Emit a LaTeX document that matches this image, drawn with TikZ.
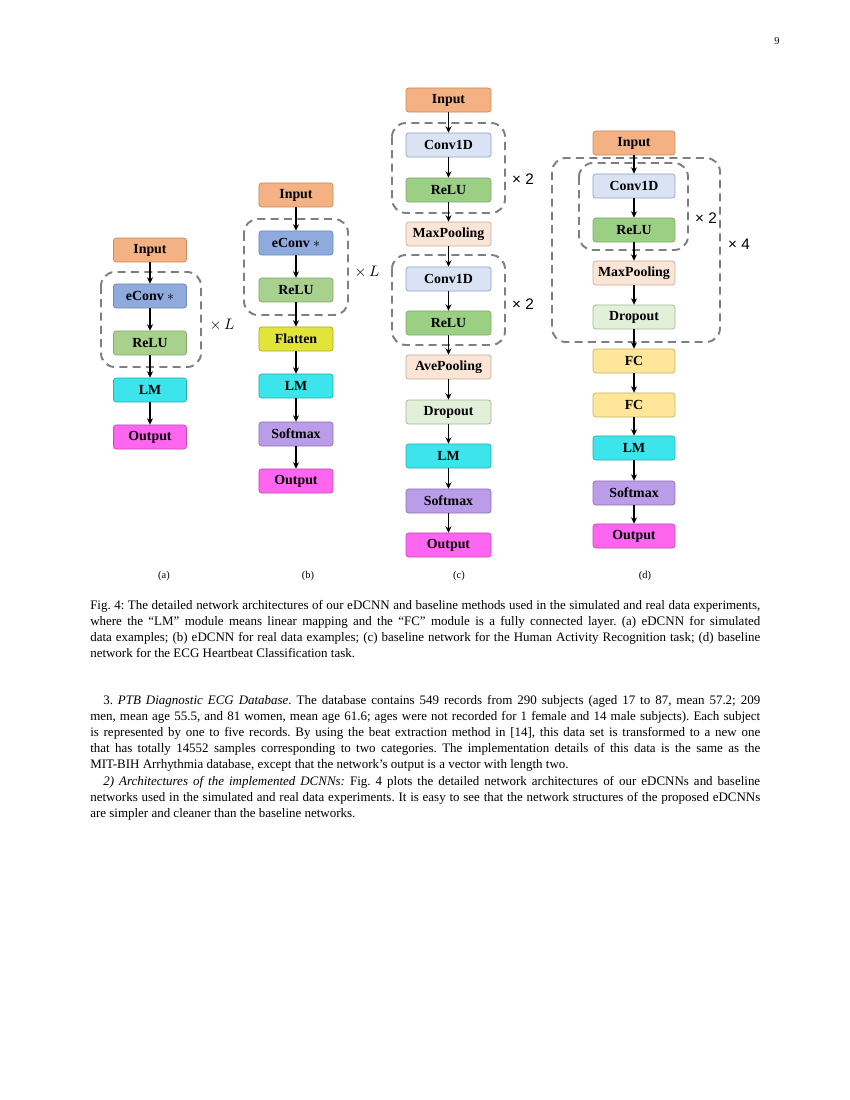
\documentclass[tikz,border=0pt]{standalone}
\usepackage{fontspec}
\setmainfont{Liberation Serif}
\newfontfamily\sansf{Liberation Sans}
\usetikzlibrary{arrows.meta}
\definecolor{cInput}{HTML}{F4B183}\definecolor{cInputD}{HTML}{C98A5E}
\definecolor{cEconv}{HTML}{8FAADC}\definecolor{cEconvD}{HTML}{6F88B8}
\definecolor{cRelu}{HTML}{A9D18E}\definecolor{cReluD}{HTML}{86A86E}
\definecolor{cRelu2}{HTML}{9ACF84}
\definecolor{cLM}{HTML}{3CE4EC}\definecolor{cLMD}{HTML}{2AAFB6}
\definecolor{cOut}{HTML}{FF66F0}\definecolor{cOutD}{HTML}{C64CB8}
\definecolor{cFlat}{HTML}{E2E43A}\definecolor{cFlatD}{HTML}{A9AB2A}
\definecolor{cSoft}{HTML}{BB9CE8}\definecolor{cSoftD}{HTML}{8E74B6}
\definecolor{cConv}{HTML}{DAE3F3}\definecolor{cConvD}{HTML}{8FA2C4}
\definecolor{cPool}{HTML}{FBE5D6}\definecolor{cPoolD}{HTML}{C9AD9A}
\definecolor{cDrop}{HTML}{E2F0D9}\definecolor{cDropD}{HTML}{A3B796}
\definecolor{cFC}{HTML}{FFE699}\definecolor{cFCD}{HTML}{C9B26A}
\definecolor{cDash}{HTML}{7F7F7F}
\newcommand{\bodyfont}{\fontsize{9.34}{11.2}\selectfont\frenchspacing}
\begin{document}
\begin{tikzpicture}[x=0.72pt,y=-0.72pt,
  blk/.style={rounded corners=2pt, minimum height=17.3pt, inner sep=0pt, line width=0.5pt,
    font=\bfseries\fontsize{10}{12}\selectfont},
  inp/.style={blk, fill=cInput, draw=cInputD},
  econv/.style={blk, fill=cEconv, draw=cEconvD},
  relu/.style={blk, fill=cRelu, draw=cReluD},
  reluc/.style={blk, fill=cRelu2, draw=cReluD},
  lm/.style={blk, fill=cLM, draw=cLMD},
  outp/.style={blk, fill=cOut, draw=cOutD},
  flat/.style={blk, fill=cFlat, draw=cFlatD},
  soft/.style={blk, fill=cSoft, draw=cSoftD},
  conv/.style={blk, fill=cConv, draw=cConvD},
  pool/.style={blk, fill=cPool, draw=cPoolD},
  drop/.style={blk, fill=cDrop, draw=cDropD},
  fc/.style={blk, fill=cFC, draw=cFCD},
  arr/.style={line width=0.9pt, -{Stealth[length=4.6pt,width=4.4pt]}},
  dbox/.style={draw=cDash, line width=1.4pt, dash pattern=on 5.8pt off 3.8pt, rounded corners=10pt},
  rep/.style={font=\fontsize{11}{12}\selectfont, inner sep=0pt},
  txt/.style={inner sep=0pt, anchor=base west, font=\bodyfont},
  sub/.style={inner sep=0pt, anchor=base, font=\fontsize{7.5}{9}\selectfont}]
\useasboundingbox (0,0) rectangle (850,1100);
\fill[white] (0,0) rectangle (850,1100);
\node[inner sep=0pt, anchor=base, font=\fontsize{7.5}{9}\selectfont] (pg) at (777,45) {9};

% ---------- (a)
\begin{scope}[every node/.append style={minimum width=52.6pt}]
\node[inp]   (a1) at (150,250) {Input};
\node[econv] (a2) at (150,296) {eConv $\ast$};
\node[relu]  (a3) at (150,343) {ReLU};
\node[lm]    (a4) at (150,390) {LM};
\node[outp]  (a5) at (150,437) {Output};
\end{scope}
\draw[dbox] (101,272) rectangle (201,367);
\node[rep] (aL) at (222,325) {$\times\,L$};
\foreach \i/\j in {a1/a2,a2/a3,a3/a4,a4/a5} \draw[arr] (\i) -- (\j);

% ---------- (b)
\begin{scope}[every node/.append style={minimum width=53.3pt}]
\node[inp]   (b1) at (296,195) {Input};
\node[econv] (b2) at (296,243) {eConv $\ast$};
\node[relu]  (b3) at (296,290) {ReLU};
\node[flat]  (b4) at (296,339) {Flatten};
\node[lm]    (b5) at (296,386) {LM};
\node[soft]  (b6) at (296,434) {Softmax};
\node[outp]  (b7) at (296,481) {Output};
\end{scope}
\draw[dbox] (244,219) rectangle (348,315);
\node[rep] (bL) at (367,272) {$\times\,L$};
\foreach \i/\j in {b1/b2,b2/b3,b3/b4,b4/b5,b5/b6,b6/b7} \draw[arr] (\i) -- (\j);

% ---------- (c)
\begin{scope}[every node/.append style={minimum width=61.2pt}]
\node[inp]   (c1) at (448.5,100) {Input};
\node[conv]  (c2) at (448.5,145) {Conv1D};
\node[reluc] (c3) at (448.5,190) {ReLU};
\node[pool]  (c4) at (448.5,234) {MaxPooling};
\node[conv]  (c5) at (448.5,279) {Conv1D};
\node[reluc] (c6) at (448.5,323) {ReLU};
\node[pool]  (c7) at (448.5,367) {AvePooling};
\node[drop]  (c8) at (448.5,412) {Dropout};
\node[lm]    (c9) at (448.5,456) {LM};
\node[soft]  (c10) at (448.5,501) {Softmax};
\node[outp]  (c11) at (448.5,545) {Output};
\end{scope}
\draw[dbox] (392,123) rectangle (505,213);
\draw[dbox] (392,255) rectangle (505,345);
\node[rep] (cx1) at (523,179) {\sansf × 2};
\node[rep] (cx2) at (523,304) {\sansf × 2};
\foreach \i/\j in {c1/c2,c2/c3,c3/c4,c4/c5,c5/c6,c6/c7,c7/c8,c8/c9,c9/c10,c10/c11} \draw[arr] (\i) -- (\j);

% ---------- (d)
\begin{scope}[every node/.append style={minimum width=59pt}]
\node[inp]   (d1) at (634,143) {Input};
\node[conv]  (d2) at (634,186) {Conv1D};
\node[reluc] (d3) at (634,230) {ReLU};
\node[pool]  (d4) at (634,273) {MaxPooling};
\node[drop]  (d5) at (634,317) {Dropout};
\node[fc]    (d6) at (634,361) {FC};
\node[fc]    (d7) at (634,405) {FC};
\node[lm]    (d8) at (634,448) {LM};
\node[soft]  (d9) at (634,493) {Softmax};
\node[outp]  (d10) at (634,536) {Output};
\end{scope}
\draw[dbox] (579,163) rectangle (688,250);
\draw[dbox] (552,158) rectangle (720,342);
\node[rep] (dx1) at (706,218) {\sansf × 2};
\node[rep] (dx2) at (739,244) {\sansf × 4};
\foreach \i/\j in {d1/d2,d2/d3,d3/d4,d4/d5,d5/d6,d6/d7,d7/d8,d8/d9,d9/d10} \draw[arr] (\i) -- (\j);

% ---------- subfigure labels
\node[sub] (la) at (164,578) {(a)};
\node[sub] (lb) at (308,578) {(b)};
\node[sub] (lc) at (459,578) {(c)};
\node[sub] (ld) at (645,578) {(d)};

% ---------- caption
\node[txt] (cap1) at (90,609) {\makebox[482.4pt][s]{Fig. 4: The detailed network architectures of our eDCNN and baseline methods used in the simulated and real data experiments,}};
\node[txt] (cap2) at (90,625) {\makebox[482.4pt][s]{where the “LM” module means linear mapping and the “FC” module is a fully connected layer. (a) eDCNN for simulated}};
\node[txt] (cap3) at (90,641) {\makebox[482.4pt][s]{data examples; (b) eDCNN for real data examples; (c) baseline network for the Human Activity Recognition task; (d) baseline}};
\node[txt] (cap4) at (90,657) {network for the ECG Heartbeat Classification task.};

% ---------- body
\node[txt] (p1) at (103,704) {\makebox[473pt][s]{3. \textit{PTB Diagnostic ECG Database.} The database contains 549 records from 290 subjects (aged 17 to 87, mean 57.2; 209}};
\node[txt] (p2) at (90,720) {\makebox[482.4pt][s]{men, mean age 55.5, and 81 women, mean age 61.6; ages were not recorded for 1 female and 14 male subjects). Each subject}};
\node[txt] (p3) at (90,736.5) {\makebox[482.4pt][s]{is represented by one to five records. By using the beat extraction method in [14], this data set is transformed to a new one}};
\node[txt] (p4) at (90,752.5) {\makebox[482.4pt][s]{that has totally 14552 samples corresponding to two categories. The implementation details of this data is the same as the}};
\node[txt] (p5) at (90,768.5) {MIT-BIH Arrhythmia database, except that the network’s output is a vector with length two.};
\node[txt] (q1) at (103,785) {\makebox[473pt][s]{\textit{2) Architectures of the implemented DCNNs:} Fig. 4 plots the detailed network architectures of our eDCNNs and baseline}};
\node[txt] (q2) at (90,801) {\makebox[482.4pt][s]{networks used in the simulated and real data experiments. It is easy to see that the network structures of the proposed eDCNNs}};
\node[txt] (q3) at (90,817) {are simpler and cleaner than the baseline networks.};
\end{tikzpicture}
\end{document}
